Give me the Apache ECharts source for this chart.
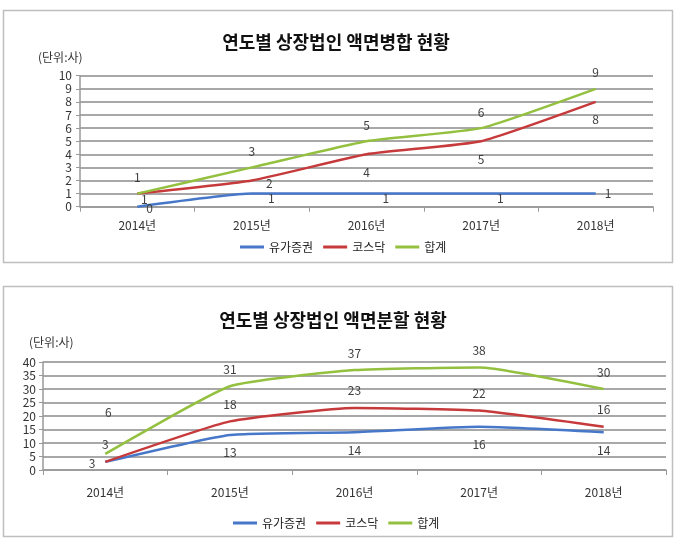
<!DOCTYPE html>
<html><head><meta charset="utf-8">
<script src="https://cdn.jsdelivr.net/npm/echarts@6/dist/echarts.min.js"></script>
<style>html,body{margin:0;padding:0;background:#fff}#c{width:679px;height:545px}</style>
</head><body><div id="c"></div>
<script>
// ---- data ----
const categories = ['2014년', '2015년', '2016년', '2017년', '2018년'];
const seriesNames = ['유가증권', '코스닥', '합계'];
// 액면병합 (reverse split)
const mergeKospi = [0, 1, 1, 1, 1];
const mergeKosdaq = [1, 2, 4, 5, 8];
const mergeTotal = [1, 3, 5, 6, 9];
// 액면분할 (split)
const splitKospi = [3, 13, 14, 16, 14];
const splitKosdaq = [3, 18, 23, 22, 16];
const splitTotal = [6, 31, 37, 38, 30];
const titles = ['연도별 상장법인 액면병합 현황', '연도별 상장법인 액면분할 현황'];
const unitLabel = '(단위:사)';

// ---- style ----
const FONT = '"Noto Sans CJK KR", "Noto Sans", sans-serif';
const colors = ['#4677C8', '#C63A3B', '#94C03F'];
const labelStyle = { color: '#404040', fontSize: 12, fontFamily: FONT };

// label placement per series (style only)
function lbl(pos, dist, offset) {
  return { show: true, position: pos, distance: dist, offset: offset || [0, 0], ...labelStyle };
}
function mkData(values, labelFn) {
  return values.map((v, i) => ({ value: v, label: labelFn(i) }));
}

const chart = echarts.init(document.getElementById('c'), null, { renderer: 'canvas' });

function axisPair(gi, max, interval, labelMargin, xMargin) {
  return {
    x: {
      type: 'category', gridIndex: gi, data: categories, boundaryGap: true,
      axisLine: { lineStyle: { color: '#999', width: 1.5 } },
      axisTick: { show: true, alignWithLabel: false, length: 5, lineStyle: { color: '#999' } },
      axisLabel: { color: '#333', fontSize: 12, fontFamily: FONT, margin: xMargin },
      splitLine: { show: false }
    },
    y: {
      type: 'value', gridIndex: gi, min: 0, max: max, interval: interval,
      axisLine: { show: true, lineStyle: { color: '#999', width: 1.5 } },
      axisTick: { show: true, length: 4, lineStyle: { color: '#999' } },
      axisLabel: { color: '#333', fontSize: 12, fontFamily: FONT, margin: labelMargin },
      splitLine: { show: true, lineStyle: { color: '#A8A8A8', width: 2 } }
    }
  };
}
const a0 = axisPair(0, 10, 1, 8, 13);
const a1 = axisPair(1, 40, 5, 7, 16);

function line(name, idx, gi, data) {
  return {
    name: name, type: 'line', xAxisIndex: gi, yAxisIndex: gi, data: data,
    smooth: 0.15, showSymbol: true, symbol: 'circle', symbolSize: 0,
    lineStyle: { color: colors[idx], width: 2.5 },
    itemStyle: { color: colors[idx] },
    emphasis: { disabled: true }
  };
}

const series = [
  line(seriesNames[0], 0, 0, mkData(mergeKospi, i =>
    i === 0 ? lbl('right', 9, [0, 2]) : i === 4 ? lbl('right', 9, [0, 0]) : lbl('right', 16, [0, 5]))),
  line(seriesNames[1], 1, 0, mkData(mergeKosdaq, i =>
    i === 0 ? lbl('bottom', 0, [7, 0]) : i === 1 ? lbl('right', 14, [0, 3]) : lbl('bottom', 12))),
  line(seriesNames[2], 2, 0, mkData(mergeTotal, i => lbl('top', 10))),
  line(seriesNames[0], 0, 1, mkData(splitKospi, i =>
    i === 0 ? lbl('left', 10, [0, 2]) : lbl('bottom', 12))),
  line(seriesNames[1], 1, 1, mkData(splitKosdaq, i => lbl('top', 11))),
  line(seriesNames[2], 2, 1, mkData(splitTotal, i =>
    i === 0 ? lbl('top', 35, [3, 0]) : lbl('top', 11)))
];

function legend(left, top) {
  return {
    left: left, top: top, data: seriesNames, icon: 'rect', itemWidth: 24, itemHeight: 3,
    itemGap: 10, selectedMode: false,
    textStyle: { color: '#222', fontSize: 12, fontFamily: FONT, padding: [0, 0, 0, 0] }
  };
}

chart.setOption({
  animation: false,
  textStyle: { fontFamily: FONT },
  title: [
    { text: titles[0], left: 331, top: 28, textAlign: 'center',
      textStyle: { fontSize: 18, fontWeight: 'bold', color: '#111', fontFamily: FONT } },
    { text: titles[1], left: 328, top: 306, textAlign: 'center',
      textStyle: { fontSize: 18, fontWeight: 'bold', color: '#111', fontFamily: FONT } }
  ],
  grid: [
    { left: 80, right: 26, top: 75.7, bottom: 338.3, containLabel: false },
    { left: 43, right: 13, top: 362, bottom: 75, containLabel: false }
  ],
  xAxis: [a0.x, a1.x],
  yAxis: [a0.y, a1.y],
  legend: [legend(235, 236), legend(228, 512)],
  series: series,
  graphic: [
    { type: 'rect', shape: { x: 3.5, y: 10.5, width: 669, height: 252 }, silent: true,
      style: { fill: 'none', stroke: '#BEBEBE', lineWidth: 1.5 } },
    { type: 'rect', shape: { x: 3.5, y: 286.5, width: 669, height: 250 }, silent: true,
      style: { fill: 'none', stroke: '#BEBEBE', lineWidth: 1.5 } },
    { type: 'text', x: 38, y: 57, silent: true,
      style: { text: unitLabel, fill: '#333', font: '12px ' + FONT, textVerticalAlign: 'middle' } },
    { type: 'text', x: 29, y: 342, silent: true,
      style: { text: unitLabel, fill: '#333', font: '12px ' + FONT, textVerticalAlign: 'middle' } }
  ]
});
</script></body></html>
